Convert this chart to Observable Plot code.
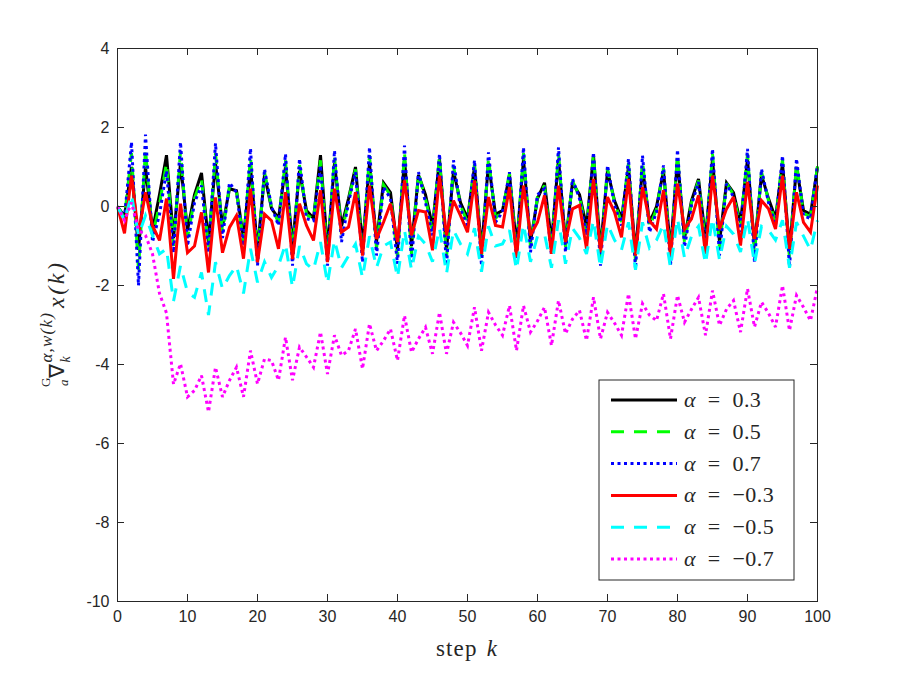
<!DOCTYPE html>
<html>
<head>
<meta charset="utf-8">
<script src="https://cdn.jsdelivr.net/npm/d3@7"></script>
<script src="https://cdn.jsdelivr.net/npm/@observablehq/plot@0.6"></script>
<style>
  html, body { margin: 0; padding: 0; background: #fff; }
  #chart { width: 900px; height: 675px; }
  svg text.serif, svg text.serif tspan { font-family: "Liberation Serif", "Times New Roman", serif !important; }
</style>
</head>
<body>
<div id="chart"></div>
<script>
// step k = 0 .. 100
const steps = d3.range(0, 101);

const alphaLabels = ["0.3", "0.5", "0.7", "\u22120.3", "\u22120.5", "\u22120.7"];

const a03 = [0,-0.25,1.0,-1.1,1.0,-0.6,0.3,1.3,-0.8,1.1,-0.6,0.3,0.85,-0.9,1.1,-0.5,0.45,0.4,-0.8,1.0,
  -1.1,0.8,-0.05,-0.3,1.0,-1.0,0.9,-0.1,-0.3,1.3,-1.1,1.1,-0.5,0.2,1.0,-1.0,1.1,-0.9,0.6,0.35,
  -1.1,1.2,-1.0,0.8,0.3,-0.5,1.2,-1.1,0.9,0.1,-0.3,1.0,-1.1,1.1,-0.2,-0.1,0.8,-1.0,1.2,-0.9,
  0.2,0.6,-0.9,1.2,-0.9,0.6,0.3,-0.5,1.3,-1.1,0.9,0.15,-0.3,1.0,-1.2,1.0,-0.4,0.0,0.9,-1.1,
  1.2,-0.8,0.15,0.7,-0.8,1.2,-0.9,0.6,0.35,-0.4,1.2,-1.0,0.8,0.2,-0.3,1.1,-1.1,1.0,-0.1,-0.2,1.0];

const a05 = [0,-0.28,1.35,-1.6,1.45,-0.75,0.05,1.1,-1.0,1.4,-0.8,0.2,0.7,-1.05,1.35,-0.65,0.52,0.38,-0.9,1.25,
  -1.3,0.88,-0.03,-0.4,1.17,-1.25,1.05,-0.2,-0.33,1.17,-1.3,1.26,-0.7,0.15,0.94,-1.2,1.3,-1.07,0.55,0.28,
  -1.28,1.37,-1.2,0.84,0.2,-0.62,1.27,-1.3,1.03,0.02,-0.4,1.08,-1.3,1.23,-0.3,-0.12,0.84,-1.17,1.35,-1.03,
  0.25,0.53,-1.07,1.35,-1.03,0.65,0.25,-0.62,1.33,-1.3,0.97,0.09,-0.39,1.1,-1.39,1.15,-0.52,-0.07,0.97,-1.3,
  1.32,-0.92,0.09,0.66,-0.94,1.33,-1.07,0.59,0.3,-0.52,1.33,-1.2,0.88,0.15,-0.39,1.2,-1.32,1.1,-0.17,-0.26,1.02];

const a07 = [0,-0.3,1.63,-2.0,1.82,-0.9,-0.2,0.9,-1.17,1.63,-1.0,0.1,0.53,-1.17,1.6,-0.8,0.6,0.36,-1.0,1.47,
  -1.5,0.95,0.0,-0.48,1.33,-1.5,1.21,-0.31,-0.36,1.04,-1.5,1.42,-0.9,0.1,0.87,-1.41,1.5,-1.24,0.49,0.2,
  -1.45,1.54,-1.41,0.87,0.1,-0.73,1.33,-1.5,1.17,-0.06,-0.48,1.17,-1.5,1.37,-0.4,-0.14,0.87,-1.33,1.5,-1.16,
  0.3,0.45,-1.24,1.5,-1.16,0.7,0.2,-0.73,1.37,-1.5,1.04,0.03,-0.48,1.21,-1.58,1.29,-0.65,-0.14,1.04,-1.5,
  1.44,-1.03,0.03,0.62,-1.07,1.46,-1.24,0.58,0.24,-0.65,1.46,-1.41,0.95,0.1,-0.48,1.29,-1.54,1.21,-0.23,-0.31,1.04];

const am03 = [0,-0.68,0.78,-0.7,0.36,-0.48,-0.86,0.2,-1.83,0.07,-1.17,-1.0,-0.15,-1.67,0.23,-1.17,-0.53,-0.23,-1.32,0.45,
  -1.41,-0.19,-0.36,-1.07,0.36,-1.33,0.07,-0.48,-0.86,0.41,-1.41,0.45,-0.65,-0.52,0.36,-1.24,0.53,-0.82,-0.4,0.07,
  -0.9,0.66,-0.73,-0.1,-0.14,-1.11,0.78,-0.73,0.15,-0.23,-0.65,0.66,-1.2,0.24,-0.48,-0.52,0.49,-1.28,0.53,-0.73,
  -0.4,0.28,-1.2,0.53,-0.9,-0.06,0.03,-1.07,0.7,-1.16,0.24,-0.14,-0.78,0.7,-1.24,0.49,-0.36,-0.57,0.41,-1.24,
  0.58,-0.57,-0.31,0.28,-1.2,0.78,-0.57,-0.06,0.24,-0.99,0.62,-0.82,0.15,-0.06,-0.57,0.78,-1.07,0.36,-0.4,-0.65,0.53];

const am05 = [0,-0.35,0.3,-0.73,-0.23,-0.73,-1.2,-1.07,-2.4,-1.5,-2.17,-2.3,-1.67,-2.75,-1.41,-2.08,-1.75,-1.5,-2.2,-1.07,
  -1.92,-1.4,-1.8,-1.5,-0.95,-2.05,-1.0,-1.45,-1.6,-0.9,-1.95,-0.85,-1.55,-1.25,-0.95,-1.8,-0.75,-1.55,-1.0,-0.9,
  -1.8,-0.6,-1.6,-0.75,-0.95,-1.4,-0.55,-1.7,-0.6,-0.95,-1.2,-0.55,-1.65,-0.5,-1.0,-0.95,-0.6,-1.6,-0.45,-1.4,
  -0.75,-0.7,-1.55,-0.35,-1.45,-0.55,-0.8,-1.2,-0.35,-1.55,-0.45,-0.85,-1.1,-0.4,-1.6,-0.4,-1.05,-0.85,-0.45,-1.55,
  -0.3,-1.3,-0.75,-0.5,-1.45,-0.3,-1.35,-0.5,-0.7,-1.15,-0.3,-1.45,-0.5,-0.6,-0.85,-0.35,-1.55,-0.4,-0.75,-1.1,-0.35];

const am07 = [0,-0.35,0.1,-0.6,-0.73,-1.2,-2.2,-2.7,-4.5,-3.98,-4.82,-4.66,-4.28,-5.2,-4.07,-4.82,-4.4,-4.07,-4.82,-3.65,
  -4.49,-3.86,-3.9,-4.4,-3.31,-4.4,-3.56,-3.81,-4.07,-3.18,-4.24,-3.26,-3.77,-3.65,-3.1,-4.11,-2.97,-3.65,-3.4,-3.1,
  -3.9,-2.76,-3.69,-3.35,-3.06,-3.73,-2.68,-3.73,-2.93,-3.2,-3.52,-2.55,-3.65,-2.68,-3.0,-3.26,-2.51,-3.65,-2.51,-3.18,
  -2.9,-2.55,-3.52,-2.38,-3.22,-2.85,-2.63,-3.39,-2.3,-3.35,-2.68,-2.95,-3.26,-2.21,-3.35,-2.46,-2.75,-2.89,-2.21,-3.35,
  -2.25,-2.93,-2.6,-2.3,-3.26,-2.13,-3.01,-2.6,-2.38,-3.18,-2.08,-3.05,-2.42,-2.7,-3.05,-2.0,-3.14,-2.25,-2.55,-2.89,-2.04];

const xTicks = [0, 10, 20, 30, 40, 50, 60, 70, 80, 90, 100];
const yTicks = [-10, -8, -6, -4, -2, 0, 2, 4];

const seriesValues = [a03, a05, a07, am03, am05, am07];
const seriesColors = ["#000000", "#00ff00", "#0000ff", "#ff0000", "#00ffff", "#ff00ff"];
const seriesDash = [null, "13,10", "3,3.5", null, "13,10", "3,3.5"];

const W = 900, H = 675, ML = 117, MR = 83, MT = 48, MB = 74;
const frameW = W - ML - MR, frameH = H - MT - MB, tickLen = 7;
const axisColor = "#262626";

const lineMarks = seriesValues.map((vals, i) =>
  Plot.line(steps.map((k, j) => ({k, v: vals[j]})), {
    x: "k", y: "v",
    stroke: seriesColors[i],
    strokeWidth: 3,
    strokeDasharray: seriesDash[i],
    strokeLinejoin: "miter",
    strokeMiterlimit: 3,
    strokeLinecap: "butt"
  })
);

const chart = Plot.plot({
  width: W, height: H,
  marginLeft: ML, marginRight: MR, marginTop: MT, marginBottom: MB,
  style: {background: "#fff", color: axisColor, fontFamily: "'Liberation Sans', Arial, sans-serif", fontSize: "16px", overflow: "visible"},
  x: {domain: [0, 100]},
  y: {domain: [-10, 4]},
  marks: [
    ...lineMarks,
    Plot.frame({stroke: axisColor, strokeWidth: 1}),
    Plot.tickX(xTicks, {x: d => d, insetTop: frameH - tickLen, stroke: axisColor}),
    Plot.tickX(xTicks, {x: d => d, insetBottom: frameH - tickLen, stroke: axisColor}),
    Plot.tickY(yTicks, {y: d => d, insetRight: frameW - tickLen, stroke: axisColor}),
    Plot.tickY(yTicks, {y: d => d, insetLeft: frameW - tickLen, stroke: axisColor}),
    Plot.axisX({ticks: xTicks, tickSize: 0, tickPadding: 9, tickFormat: d => String(d), label: null}),
    Plot.axisY({ticks: yTicks, tickSize: 0, tickPadding: 8, tickFormat: d => String(d), label: null})
  ]
});
document.getElementById("chart").appendChild(chart);

const svg = d3.select(chart);

// x label: step k
const xl = svg.append("text").attr("class", "serif")
  .attr("x", ML + frameW / 2).attr("y", 656)
  .attr("text-anchor", "middle")
  .attr("font-size", 23).attr("letter-spacing", 1.2)
  .attr("word-spacing", 2).attr("fill", axisColor);
xl.append("tspan").text("step ");
xl.append("tspan").attr("font-style", "italic").text("k");

// y label (reads bottom to top)
const yl = svg.append("text").attr("class", "serif")
  .attr("transform", "translate(64,387) rotate(-90)")
  .attr("text-anchor", "start")
  .attr("fill", axisColor);
const tG = yl.append("tspan").attr("font-size", 13).attr("dy", -14).text("G");
yl.append("tspan").attr("font-size", 13).attr("font-style", "italic")
  .attr("dx", -tG.node().getComputedTextLength() + 1).attr("dy", 18).text("a");
yl.append("tspan").attr("font-size", 21).attr("dx", 2).attr("dy", -4).text("\u2207");
const tSup = yl.append("tspan").attr("font-size", 17).attr("font-style", "italic")
  .attr("letter-spacing", 1.2).attr("dx", 1).attr("dy", -12).text("\u03b1,w(k)");
const supW = tSup.node().getComputedTextLength();
const tSub = yl.append("tspan").attr("font-size", 14).attr("font-style", "italic")
  .attr("dx", -supW).attr("dy", 18).text("k");
const subW = tSub.node().getComputedTextLength();
yl.append("tspan").attr("font-size", 24).attr("font-style", "italic").attr("letter-spacing", 2.5)
  .attr("dx", supW - subW + 4).attr("dy", -6).text("x(k)");

// legend
const lg = svg.append("g");
const lx = 599, ly = 380, lw = 195, lh = 200;
lg.append("rect").attr("x", lx).attr("y", ly).attr("width", lw).attr("height", lh)
  .attr("fill", "#fff").attr("stroke", axisColor).attr("stroke-width", 1);
alphaLabels.forEach((lab, i) => {
  const cy = 400 + i * 31.8;
  lg.append("line").attr("x1", 611).attr("x2", 677).attr("y1", cy).attr("y2", cy)
    .attr("stroke", seriesColors[i]).attr("stroke-width", 3)
    .attr("stroke-dasharray", seriesDash[i]);
  const t = lg.append("text").attr("class", "serif").attr("x", 684).attr("y", cy + 7)
    .attr("text-anchor", "start")
    .attr("font-size", 22).attr("fill", axisColor)
    .attr("word-spacing", 6).attr("letter-spacing", 0.4);
  t.append("tspan").attr("font-style", "italic").text("\u03b1");
  t.append("tspan").text(" = " + lab);
});
</script>
</body>
</html>
